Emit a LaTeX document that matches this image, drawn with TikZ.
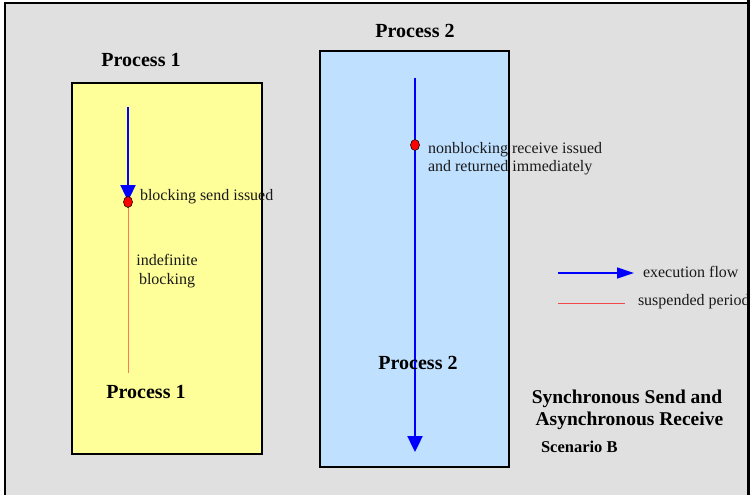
\documentclass[tikz,border=0pt]{standalone}
\usepackage{fontspec}
\setmainfont{Liberation Serif}
\usetikzlibrary{arrows.meta,shapes.geometric,backgrounds}
\definecolor{panelgray}{HTML}{E0E0E0}
\definecolor{procyellow}{HTML}{FFFF99}
\definecolor{procblue}{HTML}{BFE0FF}
\definecolor{waitred}{HTML}{FF7A5C}
\definecolor{legendred}{HTML}{F04848}
\pgfdeclarelayer{lines}
\pgfsetlayers{background,lines,main}
\begin{document}
\begin{tikzpicture}[x=1pt,y=-1pt,
  every node/.style={inner sep=0pt, outer sep=0pt},
  procbox/.style={draw=black, line width=1.6pt},
  heading/.style={font=\fontsize{20}{22}\selectfont\bfseries},
  note/.style={font=\fontsize{16}{18.5}\selectfont, text=black!90},
  flow/.style={draw=blue, line width=2.4pt, -{Triangle[length=16pt,width=15pt]}},
  waiting/.style={draw=waitred, line width=0.8pt},
  event/.style={ellipse, draw=black, line width=0.6pt, fill=red, minimum width=9pt, minimum height=11pt},
]
\useasboundingbox (0,0) rectangle (750,495);
% gray panel
\begin{scope}[on background layer]
\fill[white] (0,0) rectangle (750,495);
\fill[panelgray] (5,3) rectangle (752,500);
% process boxes
\node[procbox, fill=procyellow, minimum width=190pt, minimum height=371pt, anchor=north west] (box1) at (72,83) {};
\node[procbox, fill=procblue, minimum width=189pt, minimum height=416pt, anchor=north west] (box2) at (320,51) {};
\end{scope}

% headings
\node[heading] (h1) at (141,60) {Process 1};
\node[heading] (h2) at (415,31) {Process 2};
\node[heading] (h1b) at (146,392) {Process 1};

% process 1: run, block on send, wait
\coordinate (p1start) at (128,107);
\coordinate (p1tip) at (128,201);
\coordinate (p1end) at (128,373);
\node[event] (p1dot) at (128,202) {};
\begin{pgfonlayer}{lines}
\draw[waiting] (p1dot.center) -- (p1end);
\draw[flow] (p1start) -- (p1tip);
\end{pgfonlayer}
\node[note, anchor=west] (send) at (140,197) {blocking send issued};
\node[note, align=center] (indef) at (167,271) {indefinite\\blocking};

% process 2: run straight through
\coordinate (p2start) at (415,78);
\coordinate (p2tip) at (415,452);
\node[event] (p2dot) at (415,145) {};
\begin{pgfonlayer}{lines}
\draw[flow] (p2start) -- (p2tip);
\end{pgfonlayer}
\node[note, anchor=west] (recv1) at (428,150) {nonblocking receive issued};
\node[note, anchor=west] (recv2) at (428,168) {and returned immediately};
\node[heading] (h2b) at (418,363) {Process 2};

% legend
\coordinate (lg1a) at (558,273);
\coordinate (lg1b) at (634,273);
\coordinate (lg2a) at (558,303);
\coordinate (lg2b) at (625,303);
\draw[draw=blue, line width=1.3pt, -{Triangle[length=17pt,width=11pt]}] (lg1a) -- (lg1b);
\draw[draw=legendred, line width=1pt] (lg2a) -- (lg2b);
\node[note, anchor=west] (lgt1) at (643,272) {execution flow};
\node[note, anchor=west] (lgt2) at (638,302) {suspended period};

% caption
\node[align=center, font=\fontsize{19.5}{22}\selectfont\bfseries] (cap) at (627,410) {Synchronous Send and\\\ Asynchronous Receive};
\node[font=\fontsize{16.5}{18}\selectfont\bfseries, anchor=west] (scen) at (541,447) {Scenario B};

% panel frame (drawn last so it cuts off overflowing text)
\fill[black] (747,0) rectangle (752,500);
\draw[line width=2.5pt] (5,500) -- (5,3) -- (749,3);
\end{tikzpicture}
\end{document}
